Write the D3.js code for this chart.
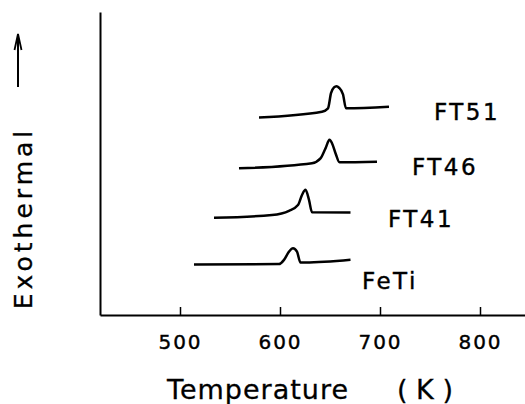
<!DOCTYPE html>
<html>
<head>
<meta charset="utf-8">
<script src="https://cdn.jsdelivr.net/npm/d3@7"></script>
<style>
  body { margin: 0; background: #fff; }
  svg { display: block; font-family: "DejaVu Sans", sans-serif; }
</style>
</head>
<body>
<svg id="chart" width="525" height="404"></svg>
<script>
// DTA traces, temperature in K vs. exothermal signal (arbitrary units, stacked)
const tickTemps = [500, 600, 700, 800];

const feTiT = [514, 599, 604, 609, 613, 617, 620.5, 625.5, 670.5];
const feTiY = [16.7, 16.8, 18.2, 20.9, 22.0, 20.9, 17.3, 17.3, 18.2];

const ft41T = [534, 592, 609, 618, 622, 625.5, 629, 632, 670.5];
const ft41Y = [32.1, 33.0, 34.4, 36.3, 39.6, 41.3, 38.0, 33.9, 33.8];

const ft46T = [559, 632, 640.5, 645.5, 649.5, 652, 655.5, 659.5, 697];
const ft46Y = [48.4, 50.1, 51.7, 55.0, 57.8, 56.7, 53.4, 50.4, 50.6];

const ft51T = [579, 642, 648, 651, 654, 656.5, 659, 663, 666, 709];
const ft51Y = [65.2, 67.1, 68.2, 73.2, 75.1, 75.5, 75.0, 72.8, 68.2, 68.7];

const traces = [
    { name: "FeTi", t: feTiT, y: feTiY, lx: 362, ly: 289 },
    { name: "FT41", t: ft41T, y: ft41Y, lx: 388, ly: 227 },
    { name: "FT46", t: ft46T, y: ft46Y, lx: 412, ly: 175 },
    { name: "FT51", t: ft51T, y: ft51Y, lx: 434, ly: 120 }
];

const svg = d3.select("#chart");

const x = d3.scaleLinear().domain([420, 845]).range([100, 525]);
const y = d3.scaleLinear().domain([0, 100]).range([315, 12]);

// x axis, ticks pointing up into the plot
const xAxis = svg.append("g")
    .attr("transform", "translate(0,315)")
    .call(d3.axisBottom(x).tickValues(tickTemps).tickSize(-8).tickSizeOuter(0).tickPadding(20));
xAxis.select(".domain").attr("stroke", "#000").attr("stroke-width", 2);
xAxis.selectAll(".tick line").attr("stroke", "#000").attr("stroke-width", 1.5);
xAxis.selectAll(".tick text")
    .attr("font-size", 20)
    .attr("letter-spacing", 2)
    .attr("font-family", "DejaVu Sans")
    .attr("fill", "#000")
    .attr("stroke", "#000")
    .attr("stroke-width", 0.4);

// y axis, bare line
const yAxis = svg.append("g")
    .attr("transform", "translate(100,0)")
    .call(d3.axisLeft(y).tickValues([]).tickSizeOuter(0));
yAxis.select(".domain").attr("stroke", "#000").attr("stroke-width", 2);

const line = d3.line()
    .x(d => x(d[0]))
    .y(d => y(d[1]))
    .curve(d3.curveMonotoneX);

traces.forEach(tr => {
    const pts = tr.t.map((t, i) => [t, tr.y[i]]);
    svg.append("path")
        .datum(pts)
        .attr("d", line)
        .attr("fill", "none")
        .attr("stroke", "#000")
        .attr("stroke-width", 2.5)
        .attr("stroke-linejoin", "round");

    svg.append("text")
        .attr("x", tr.lx)
        .attr("y", tr.ly)
        .attr("font-size", 23)
        .attr("letter-spacing", 2.5)
        .attr("stroke", "#000")
        .attr("stroke-width", 0.4)
        .text(tr.name);
});

// axis titles
svg.append("text")
    .attr("x", 167)
    .attr("y", 399)
    .attr("font-size", 27)
    .attr("letter-spacing", 1)
    .attr("stroke", "#000")
    .attr("stroke-width", 0.3)
    .text("Temperature");
svg.append("text")
    .attr("x", 397)
    .attr("y", 399)
    .attr("font-size", 27)
    .attr("stroke", "#000")
    .attr("stroke-width", 0.3)
    .attr("xml:space", "preserve")
    .text("( K )");

svg.append("text")
    .attr("transform", "translate(32,218) rotate(-90)")
    .attr("text-anchor", "middle")
    .attr("font-size", 25)
    .attr("letter-spacing", 4)
    .attr("stroke", "#000")
    .attr("stroke-width", 0.3)
    .text("Exothermal");

// "exothermal up" arrow
svg.append("line")
    .attr("x1", 18).attr("y1", 87)
    .attr("x2", 18).attr("y2", 34)
    .attr("stroke", "#000").attr("stroke-width", 2);
svg.append("path")
    .attr("d", "M14.5,50 L18,34 L21.5,50")
    .attr("fill", "none")
    .attr("stroke", "#000")
    .attr("stroke-width", 1.8);
</script>
</body>
</html>
